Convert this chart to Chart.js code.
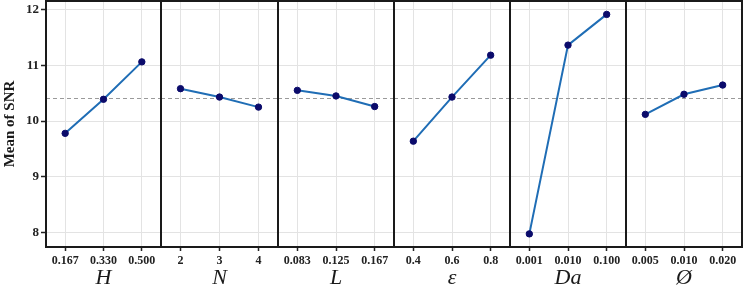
<!DOCTYPE html>
<html><head><meta charset="utf-8">
<script src="https://cdn.jsdelivr.net/npm/chart.js@4/dist/chart.umd.min.js"></script>
<style>
html,body{margin:0;padding:0;background:#fff;}
#wrap{position:relative;width:749px;height:292px;overflow:hidden;}
#wrap canvas{position:absolute;top:0;}
</style></head>
<body><div id="wrap"></div>
<script>
// ---- data ----
const factorNames = ['H', 'N', 'L', 'ε', 'Da', 'Ø'];
const hLevels = ['0.167', '0.330', '0.500'];
const hSNR = [9.78, 10.39, 11.06];
const nLevels = ['2', '3', '4'];
const nSNR = [10.58, 10.43, 10.25];
const lLevels = ['0.083', '0.125', '0.167'];
const lSNR = [10.55, 10.45, 10.26];
const eLevels = ['0.4', '0.6', '0.8'];
const eSNR = [9.64, 10.43, 11.18];
const daLevels = ['0.001', '0.010', '0.100'];
const daSNR = [7.98, 11.36, 11.91];
const phiLevels = ['0.005', '0.010', '0.020'];
const phiSNR = [10.12, 10.48, 10.645];
const meanSNR = 10.415;
const yTicks = [8, 9, 10, 11, 12];
const yTitle = 'Mean of SNR';

const panels = [
  {title: factorNames[0], labels: hLevels, values: hSNR},
  {title: factorNames[1], labels: nLevels, values: nSNR},
  {title: factorNames[2], labels: lLevels, values: lSNR},
  {title: factorNames[3], labels: eLevels, values: eSNR},
  {title: factorNames[4], labels: daLevels, values: daSNR},
  {title: factorNames[5], labels: phiLevels, values: phiSNR}
];

// ---- layout ----
const edges = [46, 161, 278, 394, 510, 626, 742];
const H = 292;
const serif = "'Liberation Serif','Times New Roman',serif";

const framePlugin = {
  id: 'frame',
  beforeDatasetsDraw(chart) {
    const {ctx, chartArea: a, scales: {y}} = chart;
    const py = Math.round(y.getPixelForValue(meanSNR)) + 0.5;
    ctx.save();
    ctx.strokeStyle = '#9a9a9a';
    ctx.lineWidth = 1;
    ctx.setLineDash([4, 3]);
    ctx.beginPath();
    ctx.moveTo(a.left, py);
    ctx.lineTo(a.right, py);
    ctx.stroke();
    ctx.restore();
  },
  afterDraw(chart) {
    const {ctx, chartArea: a} = chart;
    ctx.save();
    ctx.strokeStyle = '#1a1a1a';
    ctx.lineWidth = 2;
    ctx.strokeRect(a.left, a.top, a.right - a.left, a.bottom - a.top);
    ctx.restore();
  }
};

const wrap = document.getElementById('wrap');
panels.forEach((p, i) => {
  const first = i === 0;
  const left = first ? 0 : edges[i] - 1;
  const width = first ? edges[1] + 1 : edges[i + 1] - edges[i] + 2;
  const cv = document.createElement('canvas');
  cv.width = width; cv.height = H;
  cv.style.left = left + 'px';
  cv.style.width = width + 'px'; cv.style.height = H + 'px';
  wrap.appendChild(cv);
  new Chart(cv, {
    type: 'line',
    data: {
      labels: p.labels,
      datasets: [{
        data: p.values,
        borderColor: '#1f6db5',
        borderWidth: 2,
        pointRadius: 3.2,
        pointBackgroundColor: '#0b0b6b',
        pointBorderColor: '#0b0b6b',
        pointBorderWidth: 1,
        tension: 0,
        clip: false
      }]
    },
    options: {
      responsive: false,
      animation: false,
      devicePixelRatio: 1,
      layout: {autoPadding: false, padding: {top: 1, left: first ? 0 : 1, right: 1, bottom: 0}},
      plugins: {legend: {display: false}, tooltip: {enabled: false}},
      scales: {
        x: {
          type: 'category',
          offset: true,
          border: {display: false},
          grid: {color: '#e3e3e3', lineWidth: 1, drawTicks: true, tickLength: 4, tickColor: '#222', tickWidth: 1.5},
          ticks: {color: '#222', font: {family: serif, size: 12, weight: 'bold'}, padding: 3, maxRotation: 0, autoSkip: false},
          title: {display: true, text: p.title, color: '#1a1a1a', font: {family: serif, size: 22, style: 'italic'}, padding: {top: 0, bottom: 1}},
          afterFit(s) { s.height = 45; s.paddingLeft = 0; s.paddingRight = 0; s.paddingTop = 0; s.paddingBottom = 0; }
        },
        y: {
          type: 'linear',
          min: 7.745,
          max: 12.15,
          border: {display: false},
          afterBuildTicks(s) { s.ticks = yTicks.map(v => ({value: v})); },
          grid: {color: '#e3e3e3', lineWidth: 1, drawTicks: first, tickLength: 5, tickColor: '#222', tickWidth: 1.5},
          ticks: {display: first, color: '#222', font: {family: serif, size: 13, weight: 'bold'}, padding: 2},
          title: {display: first, text: yTitle, color: '#1a1a1a', font: {family: serif, size: 15, weight: 'bold'}, padding: {top: 1, bottom: 0}},
          afterFit(s) { s.width = first ? 46 : 0; s.paddingLeft = 0; s.paddingRight = 0; s.paddingTop = 0; s.paddingBottom = 0; }
        }
      }
    },
    plugins: [framePlugin]
  });
});
</script>
</body></html>
